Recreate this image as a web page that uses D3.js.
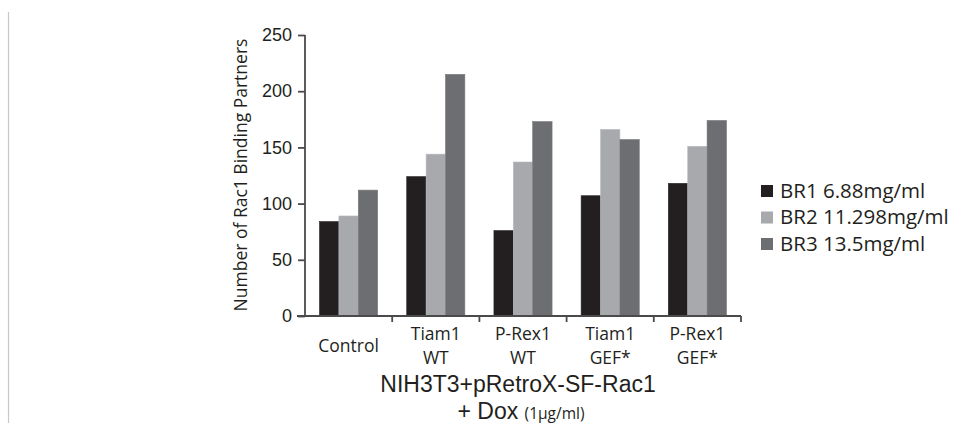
<!DOCTYPE html>
<html><head><meta charset="utf-8">
<script src="https://cdn.jsdelivr.net/npm/d3@7"></script>
<style>
body{margin:0;background:#fff;}
svg{display:block;}
</style></head>
<body>
<svg id="chart" width="956" height="423"></svg>
<script>
const categories = [["Control"], ["Tiam1","WT"], ["P-Rex1","WT"], ["Tiam1","GEF*"], ["P-Rex1","GEF*"]];
const seriesNames = ["BR1 6.88mg/ml", "BR2 11.298mg/ml", "BR3 13.5mg/ml"];
const br1 = [84, 124, 76, 107, 118];
const br2 = [89, 144, 137, 166, 151];
const br3 = [112, 215, 173, 157, 174];
const yTicks = [0, 50, 100, 150, 200, 250];
const colors = ["#231f20", "#a7a9ac", "#6d6e71"];

(function () {
const series = [br1, br2, br3];
const svg = d3.select("#chart");
const pLeft = 305, pRight = 741, pTop = 35, pBottom = 316;

// left border line
svg.append("line").attr("x1", 8.5).attr("x2", 8.5).attr("y1", 12).attr("y2", 423)
  .attr("stroke", "#c8c8c8").attr("stroke-width", 1.2);

const x = d3.scaleBand().domain(d3.range(categories.length)).range([pLeft, pRight]);
const xs = d3.scaleBand().domain(d3.range(3)).range([x.bandwidth()/6, x.bandwidth()*5/6]);
const y = d3.scaleLinear().domain([0, 250]).range([pBottom, pTop]);

const g = svg.append("g");
categories.forEach((c, i) => {
  series.forEach((s, j) => {
    g.append("rect")
      .attr("x", x(i) + xs(j))
      .attr("y", y(s[i]))
      .attr("width", xs.bandwidth())
      .attr("height", y(0) - y(s[i]))
      .attr("fill", colors[j])
      .attr("stroke", d3.color(colors[j]).brighter(0.3))
      .attr("stroke-width", 0.6);
  });
});

// Y axis
const yAxis = d3.axisLeft(y).tickValues(yTicks).tickSize(7).tickPadding(6);
const ya = svg.append("g").attr("transform", `translate(${pLeft},0)`).call(yAxis);
ya.select(".domain").attr("stroke", "#4a4a4a").attr("stroke-width", 1.8).attr("d", `M0,${pTop}V${pBottom}`);
ya.selectAll(".tick line").attr("stroke", "#4a4a4a").attr("stroke-width", 1.8);
ya.selectAll(".tick text").attr("font-family", "Liberation Sans, Arial, sans-serif")
  .attr("font-size", 18).attr("fill", "#231f20");

// X axis with boundary ticks
const xa = svg.append("g");
xa.append("line").attr("x1", pLeft - 8).attr("x2", pRight).attr("y1", pBottom).attr("y2", pBottom)
  .attr("stroke", "#4a4a4a").attr("stroke-width", 1.8);
d3.range(1, categories.length + 1).forEach(i => {
  const xx = i < categories.length ? x(i) : pRight;
  xa.append("line").attr("x1", xx).attr("x2", xx).attr("y1", pBottom).attr("y2", pBottom + 6)
    .attr("stroke", "#4a4a4a").attr("stroke-width", 1.8);
});

// Category labels
categories.forEach((c, i) => {
  const cx = x(i) + x.bandwidth() / 2;
  const t = svg.append("text").attr("text-anchor", "middle")
    .attr("font-family", "Open Sans, sans-serif").attr("font-size", 17.5).attr("fill", "#231f20");
  if (c.length === 1) {
    t.attr("x", cx).attr("y", 352).text(c[0]);
  } else {
    t.append("tspan").attr("x", cx).attr("y", 340).text(c[0]);
    t.append("tspan").attr("x", cx).attr("y", 364).text(c[1]);
  }
});

// Y axis title
svg.append("text")
  .attr("transform", "translate(247,175) rotate(-90)")
  .attr("text-anchor", "middle")
  .attr("font-family", "Open Sans, sans-serif").attr("font-size", 17.5).attr("fill", "#231f20")
  .text("Number of Rac1 Binding Partners");

// X axis title
svg.append("text").attr("x", 518).attr("y", 392).attr("text-anchor", "middle")
  .attr("font-family", "Liberation Sans, Arial, sans-serif").attr("font-size", 23).attr("fill", "#231f20")
  .text("NIH3T3+pRetroX-SF-Rac1");
const t2 = svg.append("text").attr("x", 521).attr("y", 419).attr("text-anchor", "middle")
  .attr("font-family", "Liberation Sans, Arial, sans-serif").attr("fill", "#231f20");
t2.append("tspan").attr("font-size", 23).text("+ Dox ");
t2.append("tspan").attr("font-size", 15.5).attr("font-family", "Open Sans, sans-serif").text("(1µg/ml)");

// Legend
const lg = svg.append("g");
seriesNames.forEach((n, j) => {
  const yy = 185 + j * 26.5;
  lg.append("rect").attr("x", 761).attr("y", yy).attr("width", 12).attr("height", 12).attr("fill", colors[j]);
  lg.append("text").attr("x", 780).attr("y", yy + 12.5)
    .attr("font-family", "Open Sans, sans-serif").attr("font-size", 20.5).attr("fill", "#231f20")
    .text(n);
});
})();
</script>
</body></html>
